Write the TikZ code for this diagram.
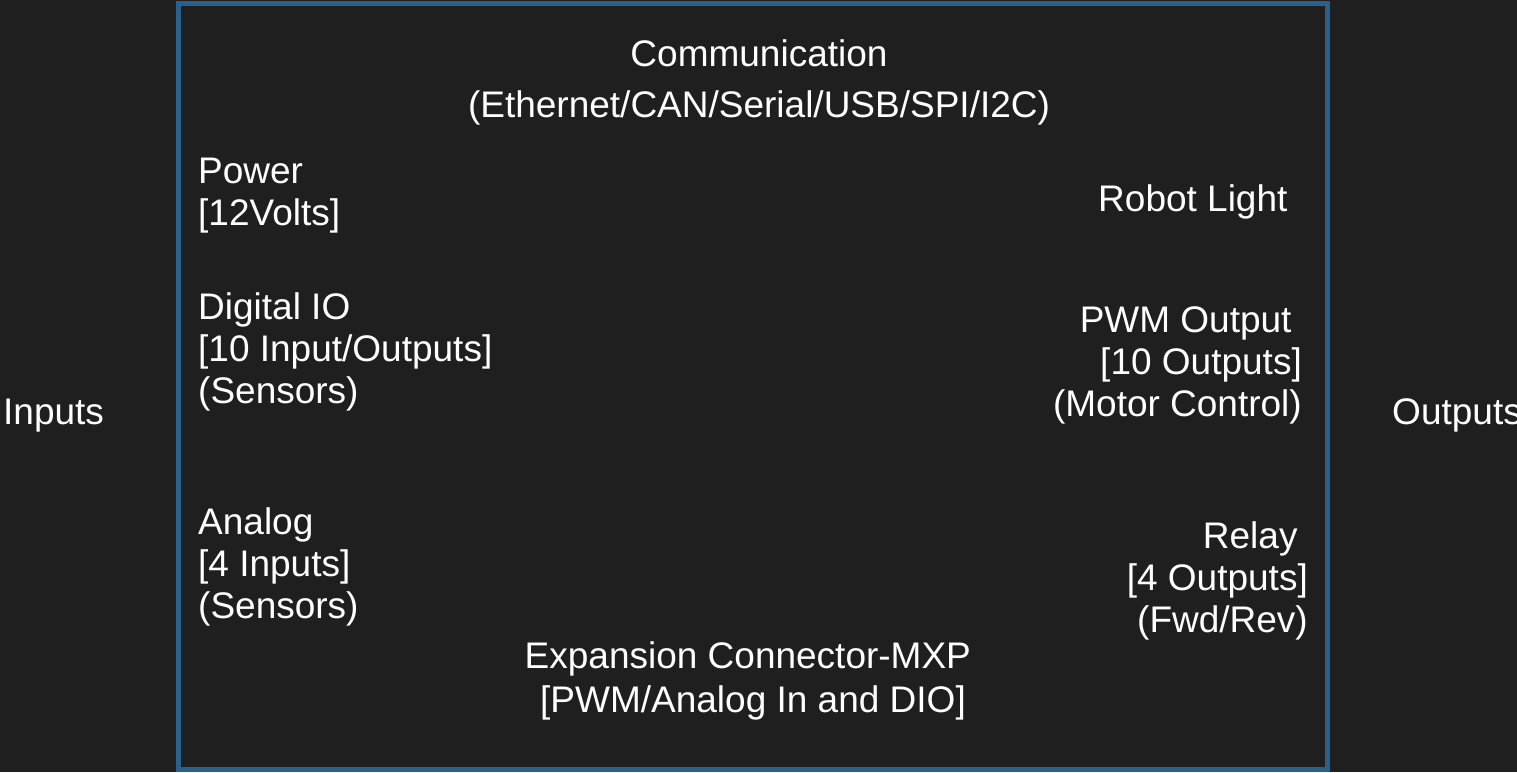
\documentclass[tikz,border=0pt]{standalone}
\usepackage{fontspec}
\setmainfont{Liberation Sans}
\usepackage{tikz}
\usetikzlibrary{positioning}
\definecolor{bgdark}{RGB}{32,31,31}
\definecolor{rioblue}{RGB}{41,96,140}

\begin{document}
\begin{tikzpicture}[x=1pt,y=-1pt,
    txt/.style={text=white,inner sep=0pt,font=\fontsize{37}{42}\selectfont}]
  \fill[bgdark] (0,0) rectangle (1517,772);
  \useasboundingbox (0,0) rectangle (1517,772);
  \draw[rioblue,line width=5pt] (178,3) rectangle (1327,769);
  % left side
  \node[txt,anchor=north west,align=left] (power) at (198,158) {Power\\{}[12Volts]};
  \node[txt,anchor=north west,align=left] (dio) at (198,292) {Digital IO\\{}[10 Input/Outputs]\\(Sensors)};
  \node[txt,anchor=north west,align=left] (analog) at (198,507) {Analog\\{}[4 Inputs]\\(Sensors)};
  % top and bottom
  \node[txt,anchor=north,align=center,font=\fontsize{37}{51}\selectfont] (comm) at (759,39) {Communication\\(Ethernet/CAN/Serial/USB/SPI/I2C)};
  \node[txt,anchor=north,align=center,font=\fontsize{37}{44}\selectfont] (mxp) at (753,641) {Expansion Connector-MXP\hspace*{0.278em}\\{}[PWM/Analog In and DIO]};
  % right side
  \node[txt,anchor=north west] (light) at (1098,184) {Robot Light};
  \node[txt,anchor=north east,align=right] (pwm) at (1302,306) {PWM Output\hspace*{0.278em}\\{}[10 Outputs]\\(Motor Control)};
  \node[txt,anchor=north east,align=right] (relay) at (1308,521) {Relay\hspace*{0.278em}\\{}[4 Outputs]\\(Fwd/Rev)};
  % outside
  \node[txt,anchor=base west] (inputs) at (3,424) {Inputs};
  \node[txt,anchor=base west] (outputs) at (1392,424) {Outputs};
\end{tikzpicture}
\end{document}
